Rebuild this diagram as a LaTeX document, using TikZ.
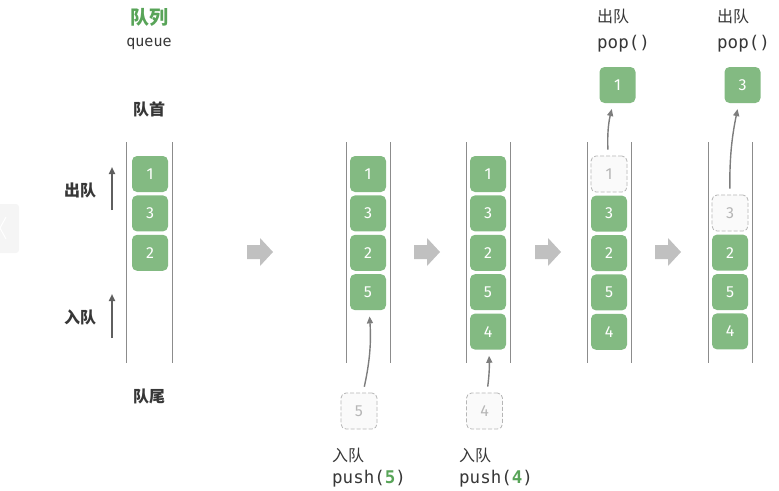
\documentclass[tikz,border=0pt]{standalone}
\usepackage{fontspec}
\setmainfont{Noto Sans CJK SC}
\newfontfamily\numfont{Fira Sans}
\newfontfamily\codefont{DejaVu Sans Mono}
\usetikzlibrary{positioning,arrows.meta}
\definecolor{qgreen}{RGB}{131,186,130}
\definecolor{qtitle}{RGB}{88,164,88}
\definecolor{qtext}{RGB}{55,55,55}
\definecolor{qwall}{RGB}{140,140,140}
\definecolor{qlink}{RGB}{125,125,125}
\definecolor{qghost}{RGB}{182,182,182}
\definecolor{qghostfill}{RGB}{250,250,250}
\definecolor{qblock}{RGB}{192,192,192}
\definecolor{qui}{RGB}{245,245,245}
\tikzset{
	box/.style={fill=qgreen, rounded corners=5pt, minimum width=36pt, minimum height=36pt, inner sep=0pt, text=white, font=\numfont\fontsize{16}{19}\selectfont},
	ghost/.style={box, fill=qghostfill, draw=qghost, line width=0.8pt, dash pattern=on 4pt off 2pt, text=qghost},
	wall/.style={qwall, line width=1pt},
	link/.style={->, qlink, line width=1.4pt, shorten <=6pt, shorten >=6pt},
	tag/.style={text=qtext, font=\bfseries\fontsize{16}{19}\selectfont},
	note/.style={text=qtext, inner sep=0pt, anchor=west, font=\fontsize{16}{19}\selectfont},
	code/.style={text=qtext, inner sep=0pt, anchor=west, font=\codefont\fontsize{17.5}{20}\selectfont},
	block/.style={fill=qblock}
}
\begin{document}
\begin{tikzpicture}[x=1pt, y=-1pt, >={Triangle[length=7pt, width=6pt]}]
	\useasboundingbox (0,0) rectangle (779,490);
	\fill[qui, rounded corners=3pt] (-5,204) rectangle (19,253);
	\draw[white, line width=1pt] (6,217) -- (0,228) -- (6,239);

	\node[text=qtitle, font=\bfseries\fontsize{19}{22}\selectfont] (title) at (149,17) {队列};
	\node[text=qtext, font=\codefont\fontsize{15}{18}\selectfont] (queue) at (149,44) {queue};
	\node[tag] (head) at (149,109) {队首};
	\node[tag] (tail) at (149,396) {队尾};
	\node[tag] (deq) at (80,190) {出队};
	\node[tag] (enq) at (80,317) {入队};
	\coordinate (deqA) at (112,210);
	\coordinate (deqB) at (112,167);
	\coordinate (enqA) at (112,338);
	\coordinate (enqB) at (112,294);
	\draw[->, qtext!80, line width=2pt] (deqA) -- (deqB);
	\draw[->, qtext!80, line width=2pt] (enqA) -- (enqB);

	\draw[wall] (126,142) -- (126,363);
	\draw[wall] (172,142) -- (172,363);
	\node[box] (a1) at (150,174) {1};
	\node[box, below=3pt of a1] (a3) {3};
	\node[box, below=3pt of a3] (a2) {2};

	\draw[wall] (346,142) -- (346,363);
	\draw[wall] (390,142) -- (390,363);
	\node[box] (b1) at (368,174) {1};
	\node[box, below=3pt of b1] (b3) {3};
	\node[box, below=3pt of b3] (b2) {2};
	\node[box, below=3pt of b2] (b5) {5};

	\draw[wall] (466,142) -- (466,363);
	\draw[wall] (510,142) -- (510,363);
	\node[box] (c1) at (488,174) {1};
	\node[box, below=3pt of c1] (c3) {3};
	\node[box, below=3pt of c3] (c2) {2};
	\node[box, below=3pt of c2] (c5) {5};
	\node[box, below=3pt of c5] (c4) {4};

	\draw[wall] (587,142) -- (587,363);
	\draw[wall] (631,142) -- (631,363);
	\node[ghost] (d1) at (609,174) {1};
	\node[box, below=3pt of d1] (d3) {3};
	\node[box, below=3pt of d3] (d2) {2};
	\node[box, below=3pt of d2] (d5) {5};
	\node[box, below=3pt of d5] (d4) {4};

	\draw[wall] (708,142) -- (708,363);
	\draw[wall] (752,142) -- (752,363);
	\node[ghost] (e3) at (730,213) {3};
	\node[box, below=3pt of e3] (e2) {2};
	\node[box, below=3pt of e2] (e5) {5};
	\node[box, below=3pt of e5] (e4) {4};

	\node[box] (p1) at (617.5,85) {1};
	\node[box] (p3) at (742.5,85) {3};
	\node[ghost] (n5) at (359,411) {5};
	\node[ghost] (n4) at (484.5,411) {4};

	\draw[link] (n5) to[bend right=8] (b5);
	\draw[link] (n4) to[bend right=5] (c4);
	\draw[link] (d1) to[bend left=8] (p1);
	\draw[link] (e3) to[bend left=6] (p3);

	\node[note] (pop1) at (597,16) {出队};
	\node[code] (popc1) at (597,44) {pop()};
	\node[note] (pop3) at (717,16) {出队};
	\node[code] (popc3) at (717,44) {pop()};
	\node[note] (push5) at (332,455) {入队};
	\node[code] (pushc5) at (332,479) {push(\textbf{\textcolor{qtitle}{5}})};
	\node[note] (push4) at (459,455) {入队};
	\node[code] (pushc4) at (459,479) {push(\textbf{\textcolor{qtitle}{4}})};

	\foreach \x in {247,414,535,655}
		\fill[block] (\x,245) -- ++(13,0) -- ++(0,-7) -- ++(13,14) -- ++(-13,14) -- ++(0,-7) -- ++(-13,0) -- cycle;
\end{tikzpicture}
\end{document}
